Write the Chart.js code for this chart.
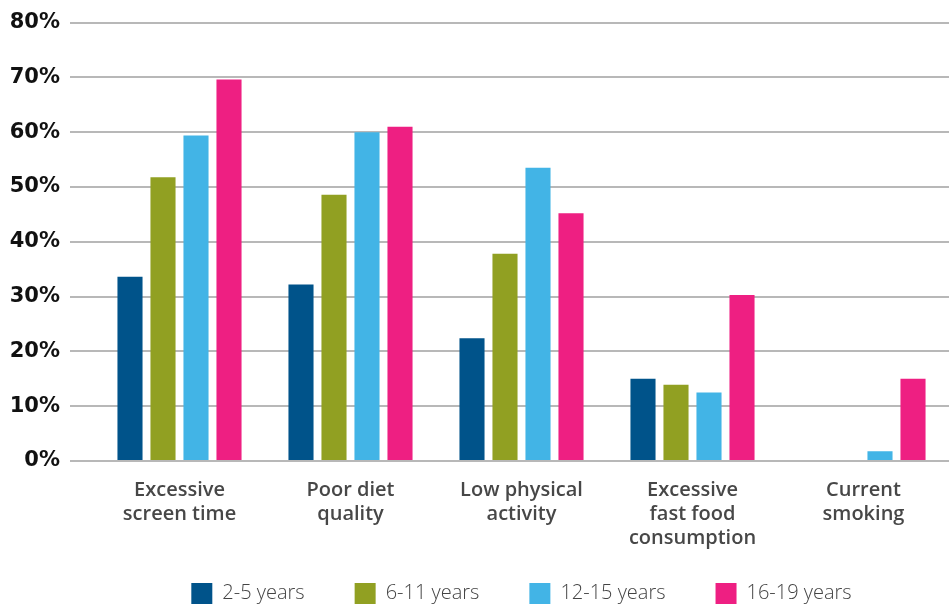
<!DOCTYPE html>
<html>
<head>
<meta charset="utf-8">
<script src="https://cdn.jsdelivr.net/npm/chart.js@4"></script>
<style>
  html,body{margin:0;padding:0;background:#fff}
  #wrap{width:949px;height:605px;position:relative}
</style>
</head>
<body>
<div id="wrap"><canvas id="myChart"></canvas></div>
<script>
    var categories = [
        ["Excessive","screen time"],
        ["Poor diet","quality"],
        ["Low physical","activity"],
        ["Excessive","fast food","consumption"],
        ["Current","smoking"]
    ]
    var ageGroups = ["2-5 years","6-11 years","12-15 years","16-19 years"]

    // percent of children/teens per risk factor
    var age2to5   = [33.6, 32.2, 22.4, 15.0, null]
    var age6to11  = [51.8, 48.6, 37.8, 13.9, null]
    var age12to15 = [59.4, 60.0, 53.5, 12.5, 1.8]
    var age16to19 = [69.6, 61.0, 45.2, 30.3, 15.0]

    var yMin = 0, yMax = 80, yStep = 10

    var colors = ["#00538a","#91a022","#42b4e6","#ee1f82"]
    var series = [age2to5, age6to11, age12to15, age16to19]

    var ctx = document.getElementById('myChart').getContext('2d');
    var chart = new Chart(ctx, {
        type: 'bar',
        data: {
            labels: categories,
            datasets: series.map(function(values, i){
                return {
                    label: ageGroups[i],
                    data: values,
                    backgroundColor: colors[i],
                    borderWidth: 0,
                    categoryPercentage: 0.772,
                    barPercentage: 0.76
                }
            })
        },
        options: {
            responsive: true,
            maintainAspectRatio: false,
            animation: false,
            devicePixelRatio: 1,
            layout: { padding: { top: 22, right: 0, left: 0, bottom: -9 } },
            scales: {
                x: {
                    grid: { display: false, drawTicks: false },
                    border: { display: false },
                    ticks: {
                        padding: 17,
                        color: '#474747',
                        font: { family: '"Open Sans"', size: 20, weight: 600, lineHeight: 1.2 },
                        maxRotation: 0,
                        autoSkip: false
                    },
                    afterFit: function(scale){
                        // let the 3-line label run into the legend band
                        scale.height = 72
                        scale._computeLabelArea = function(){}
                    }
                },
                y: {
                    min: yMin,
                    max: yMax,
                    grid: { color: '#b8b8b8', lineWidth: 2, tickLength: 24, drawTicks: true },
                    border: { display: false },
                    ticks: {
                        stepSize: yStep,
                        padding: 10,
                        color: '#111',
                        font: { family: '"DejaVu Sans"', size: 21, weight: 'bold' },
                        callback: function(v){ return v + '%' }
                    },
                    afterFit: function(scale){ scale.width = 94 }
                }
            },
            plugins: {
                tooltip: { enabled: false },
                legend: {
                    position: 'bottom',
                    fullSize: false,
                    labels: {
                        boxWidth: 21,
                        boxHeight: 21,
                        padding: 50,
                        color: '#444',
                        font: { family: '"Open Sans"', size: 20, weight: 300 }
                    }
                }
            }
        }
    });
</script>
</body>
</html>
